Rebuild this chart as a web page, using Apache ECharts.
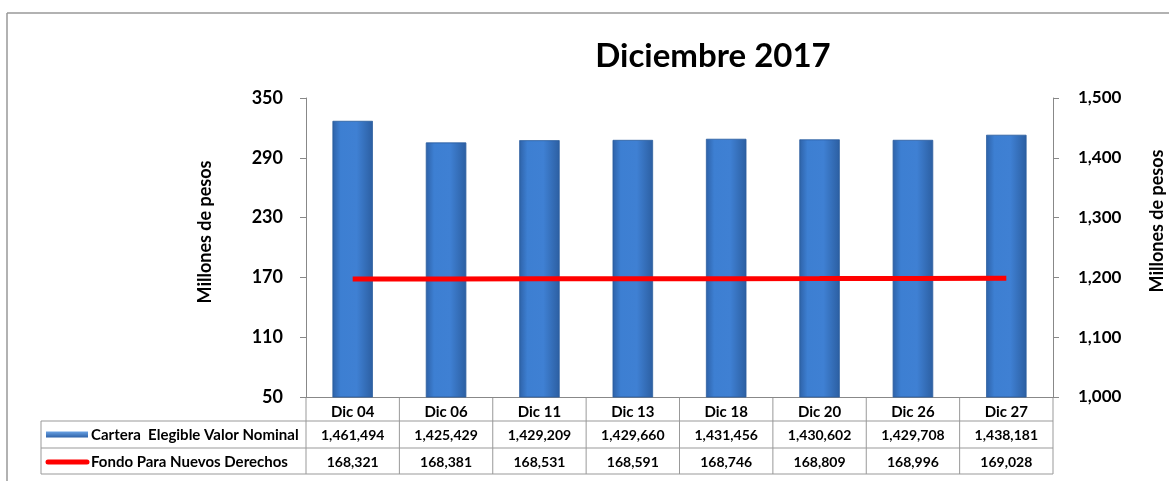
<!DOCTYPE html>
<html>
<head>
<meta charset="utf-8">
<script src="https://cdn.jsdelivr.net/npm/echarts@6/dist/echarts.min.js"></script>
<style>
    html, body { margin: 0; padding: 0; background: #fff; }
    #main { width: 1169px; height: 481px; }
</style>
</head>
<body>
<div id="main"></div>
<script>
// categorías y datos (millones de pesos en la tabla, en miles para los ejes)
const categories = ['Dic 04', 'Dic 06', 'Dic 11', 'Dic 13', 'Dic 18', 'Dic 20', 'Dic 26', 'Dic 27'];
const carteraValues = [1461494, 1425429, 1429209, 1429660, 1431456, 1430602, 1429708, 1438181];
const fondoValues = [168321, 168381, 168531, 168591, 168746, 168809, 168996, 169028];
const seriesNames = ['Cartera  Elegible Valor Nominal', 'Fondo Para Nuevos Derechos'];

const FONT = 'Lato, "Open Sans", sans-serif';
const GRID = { left: 306, right: 116, top: 98, bottom: 84 };

const fmt = v => v.toLocaleString('en-US');

const barColor = {
    type: 'linear', x: 0, y: 0, x2: 1, y2: 0,
    colorStops: [
        { offset: 0, color: '#2e62a8' },
        { offset: 0.2, color: '#3d7fd2' },
        { offset: 0.6, color: '#3f80d3' },
        { offset: 1, color: '#2c5fa2' }
    ]
};

const myChart = echarts.init(document.getElementById('main'));

const option = {
    animation: false,
    title: {
        text: 'Diciembre 2017',
        left: 708, top: 35, textAlign: 'center',
        textStyle: { fontFamily: FONT, fontSize: 33, fontWeight: 'bold', color: '#000' }
    },
    grid: GRID,
    xAxis: {
        type: 'category',
        data: categories,
        axisLine: { lineStyle: { color: '#888', width: 1 } },
        axisTick: { show: false },
        axisLabel: { margin: 8, fontFamily: FONT, fontSize: 15, fontWeight: 'bold', color: '#000' }
    },
    yAxis: [
        {
            type: 'value', min: 50, max: 350, interval: 60,
            splitLine: { show: false },
            axisLine: { show: true, lineStyle: { color: '#888' } },
            axisTick: { show: true, inside: false, length: 6, lineStyle: { color: '#888' } },
            axisLabel: { margin: 23, fontFamily: FONT, fontSize: 18, fontWeight: 'bold', color: '#000' }
        },
        {
            type: 'value', min: 1000, max: 1500, interval: 100,
            splitLine: { show: false },
            axisLine: { show: true, lineStyle: { color: '#888' } },
            axisTick: { show: true, length: 6, lineStyle: { color: '#888' } },
            axisLabel: {
                margin: 25, fontFamily: FONT, fontSize: 17, fontWeight: 'bold', color: '#000',
                formatter: v => fmt(v)
            }
        }
    ],
    series: [
        {
            name: seriesNames[0],
            type: 'bar',
            yAxisIndex: 1,
            barWidth: '43%',
            data: carteraValues.map(v => v / 1000),
            itemStyle: { color: barColor, borderColor: '#2d5e9e', borderWidth: 0.5 }
        },
        {
            name: seriesNames[1],
            type: 'line',
            yAxisIndex: 0,
            data: fondoValues.map(v => v / 1000),
            showSymbol: false,
            lineStyle: { color: '#ff0000', width: 5 },
            z: 5
        }
    ]
};

myChart.setOption(option);

// tabla de datos bajo el eje de categorías
function buildTable() {
    const g = [];
    const lineStyle = { stroke: '#999', lineWidth: 1 };
    const x0 = myChart.convertToPixel({ xAxisIndex: 0 }, 0);
    const x1 = myChart.convertToPixel({ xAxisIndex: 0 }, 1);
    const band = x1 - x0;
    const left = x0 - band / 2;
    const right = left + band * categories.length;
    const tableLeft = 41;
    const yAxisLine = 481 - GRID.bottom;
    const rows = [yAxisLine, 421, 448, 474];

    // borde exterior del gráfico
    g.push({ type: 'line', shape: { x1: 7, y1: 13, x2: 1169, y2: 13 }, style: { stroke: '#999', lineWidth: 1.5 } });
    g.push({ type: 'line', shape: { x1: 7, y1: 13, x2: 7, y2: 481 }, style: { stroke: '#999', lineWidth: 1.5 } });

    // líneas horizontales
    g.push({ type: 'line', shape: { x1: tableLeft, y1: rows[1], x2: right, y2: rows[1] }, style: lineStyle });
    g.push({ type: 'line', shape: { x1: tableLeft, y1: rows[2], x2: right, y2: rows[2] }, style: lineStyle });
    g.push({ type: 'line', shape: { x1: tableLeft, y1: rows[3], x2: right, y2: rows[3] }, style: lineStyle });
    g.push({ type: 'line', shape: { x1: tableLeft, y1: rows[1], x2: tableLeft, y2: rows[3] }, style: lineStyle });

    // líneas verticales
    for (let i = 0; i <= categories.length; i++) {
        const x = left + band * i;
        g.push({ type: 'line', shape: { x1: x, y1: rows[0], x2: x, y2: rows[3] }, style: lineStyle });
    }

    // valores
    const txt = { fontFamily: FONT, fontSize: 14, fontWeight: 'bold', fill: '#000', align: 'center', verticalAlign: 'middle' };
    categories.forEach((c, i) => {
        const cx = myChart.convertToPixel({ xAxisIndex: 0 }, i);
        g.push({ type: 'text', x: cx, y: (rows[1] + rows[2]) / 2 + 1, style: Object.assign({ text: fmt(carteraValues[i]) }, txt) });
        g.push({ type: 'text', x: cx, y: (rows[2] + rows[3]) / 2 + 1, style: Object.assign({ text: fmt(fondoValues[i]) }, txt) });
    });

    // leyendas dentro de la tabla
    const y1 = (rows[1] + rows[2]) / 2;
    const y2 = (rows[2] + rows[3]) / 2;
    g.push({
        type: 'rect', shape: { x: 46, y: y1 - 3, width: 42, height: 6 },
        style: { fill: { type: 'linear', x: 0, y: 0, x2: 0, y2: 1, colorStops: [{ offset: 0, color: '#6aa2e4' }, { offset: 1, color: '#2e62a8' }] } }
    });
    g.push({ type: 'line', shape: { x1: 48, y1: y2 + 1, x2: 87, y2: y2 + 1 }, style: { stroke: '#ff0000', lineWidth: 5, lineCap: 'round' } });
    g.push({ type: 'text', x: 91, y: y1 + 1, style: Object.assign({}, txt, { text: seriesNames[0], align: 'left', fontSize: 15 }) });
    g.push({ type: 'text', x: 91, y: y2 + 1, style: Object.assign({}, txt, { text: seriesNames[1], align: 'left', fontSize: 15 }) });

    // nombres de los ejes
    const nameStyle = { fontFamily: FONT, fontSize: 18, fontWeight: 'bold', fill: '#000', align: 'center', verticalAlign: 'middle', text: 'Millones de pesos' };
    g.push({ type: 'text', x: 205, y: 232, rotation: Math.PI / 2, style: Object.assign({}, nameStyle) });
    g.push({ type: 'text', x: 1157, y: 221, rotation: Math.PI / 2, style: Object.assign({}, nameStyle) });

    myChart.setOption({ graphic: g });
}

buildTable();
</script>
</body>
</html>
